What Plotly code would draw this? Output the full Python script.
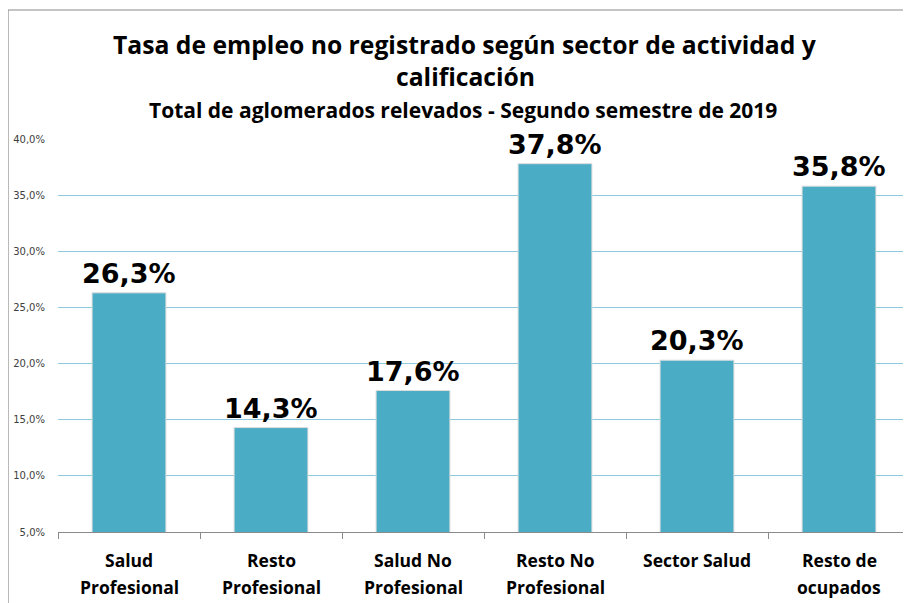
import plotly.graph_objects as go

categories = ["Salud Profesional", "Resto Profesional", "Salud No Profesional",
              "Resto No Profesional", "Sector Salud", "Resto de ocupados"]
label_line1 = ["Salud", "Resto", "Salud No", "Resto No", "Sector Salud", "Resto de"]
label_line2 = ["Profesional", "Profesional", "Profesional", "Profesional", "", "ocupados"]
values = [26.3, 14.3, 17.6, 37.8, 20.3, 35.8]
y_ticks = [5, 10, 15, 20, 25, 30, 35, 40]
y_tick_labels = ["5,0%", "10,0%", "15,0%", "20,0%", "25,0%", "30,0%", "35,0%", "40,0%"]

title_line1 = "Tasa de empleo no registrado según sector de actividad y"
title_line2 = "calificación"
subtitle = "Total de aglomerados relevados - Segundo semestre de 2019"

# the page body adds an 8px margin, so the figure is made 8px smaller
OFF = 8
W, H = 911 - OFF, 603 - OFF
ML, MR, MT, MB = 58 - OFF, 1, 139 - OFF, 71
PW = W - ML - MR
PH = H - MT - MB

def py(ypx):
    # ypx is a position in the 911x603 window
    return (H - MB - (ypx - OFF)) / PH

def px(xpx):
    return ((xpx - OFF) - ML) / PW

fig = go.Figure()
fig.add_trace(go.Bar(
    x=categories, y=values,
    marker=dict(color="#4BACC6", line=dict(color="#dcdcdc", width=1)),
    width=0.52,
    cliponaxis=False,
    hoverinfo="skip",
))

TF = "Open Sans"
ann = []
ann.append(dict(text="<b>" + title_line1 + "</b>", x=px(465), y=py(45), xref="paper", yref="paper",
                xanchor="center", yanchor="middle",
                showarrow=False, font=dict(family=TF, size=24.7, color="black")))
ann.append(dict(text="<b>" + title_line2 + "</b>", x=px(465), y=py(76), xref="paper", yref="paper",
                xanchor="center", yanchor="middle",
                showarrow=False, font=dict(family=TF, size=24.7, color="black")))
ann.append(dict(text="<b>" + subtitle + "</b>", x=px(463), y=py(110), xref="paper", yref="paper",
                xanchor="center", yanchor="middle",
                showarrow=False, font=dict(family=TF, size=21, color="black")))
for c, l1, l2 in zip(categories, label_line1, label_line2):
    ann.append(dict(text="<b>" + l1 + "</b>", x=c, y=py(560), xref="x", yref="paper",
                    xanchor="center", yanchor="middle",
                    showarrow=False, font=dict(family=TF, size=17.5, color="black")))
    if l2:
        ann.append(dict(text="<b>" + l2 + "</b>", x=c, y=py(587), xref="x", yref="paper",
                        xanchor="center", yanchor="middle",
                        showarrow=False, font=dict(family=TF, size=17.5, color="black")))
for c, v in zip(categories, values):
    ann.append(dict(text="<b>" + f"{v:.1f}".replace(".", ",") + "%</b>", x=c, y=v,
                    xref="x", yref="y", xanchor="center", yanchor="bottom", yshift=2,
                    showarrow=False, font=dict(family="DejaVu Sans", size=27, color="black")))

fig.update_layout(
    width=W, height=H,
    margin=dict(l=ML, r=MR, t=MT, b=MB),
    paper_bgcolor="white", plot_bgcolor="white",
    separators=",.",
    showlegend=False,
    bargap=0.48,
    annotations=ann,
    shapes=[dict(type="rect", xref="paper", yref="paper",
                 x0=px(8), y0=py(700), x1=px(1000), y1=py(10),
                 line=dict(color="#8a8a8a", width=1.2), fillcolor="rgba(0,0,0,0)", layer="below")],
    xaxis=dict(showticklabels=False, showline=True, linecolor="#8a8a8a", linewidth=1,
               ticks="outside", tickson="boundaries", ticklen=6, tickcolor="#8a8a8a",
               showgrid=False, fixedrange=True, automargin=False),
    yaxis=dict(range=[5, 40], tickvals=y_ticks, ticktext=y_tick_labels,
               showgrid=True, gridcolor="#8ccadb", gridwidth=1, showline=False, zeroline=False,
               tickfont=dict(family="DejaVu Sans", size=10, color="#404040"),
               ticklabelstandoff=12, fixedrange=True, automargin=False),
)

fig.write_html("out.html")
